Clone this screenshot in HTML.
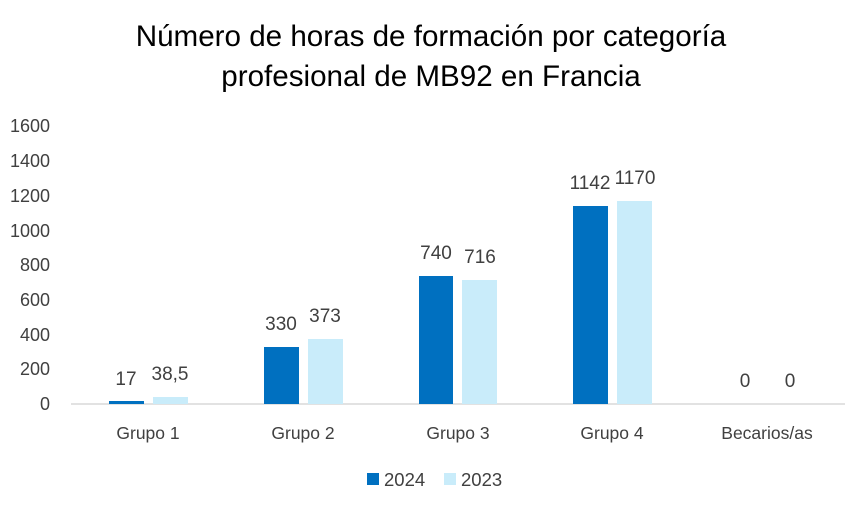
<!DOCTYPE html>
<html><head><meta charset="utf-8"><style>
body{margin:0;background:#fff;}
svg{display:block;font-family:"Liberation Sans",sans-serif;}
</style></head><body>
<svg width="861" height="511" viewBox="0 0 861 511">
<text x="431" y="46" text-anchor="middle" font-size="29.6" fill="#000">Número de horas de formación por categoría</text>
<text x="431" y="86" text-anchor="middle" font-size="29.6" fill="#000">profesional de MB92 en Francia</text>
<g font-size="18" fill="#404040" text-anchor="end">
<text x="50" y="410">0</text>
<text x="50" y="375">200</text>
<text x="50" y="341">400</text>
<text x="50" y="306">600</text>
<text x="50" y="271">800</text>
<text x="50" y="237">1000</text>
<text x="50" y="202">1200</text>
<text x="50" y="167">1400</text>
<text x="50" y="132">1600</text>
</g>
<line x1="71" y1="404" x2="845" y2="404" stroke="#d9d9d9" stroke-width="1.5"/>
<g fill="#0070C0">
<rect x="109" y="401" width="35" height="3"/>
<rect x="264" y="347" width="35" height="57"/>
<rect x="419" y="276" width="34" height="128"/>
<rect x="573" y="206" width="35" height="198"/>
</g>
<g fill="#C9ECFA">
<rect x="153" y="397" width="35" height="7"/>
<rect x="308" y="339" width="35" height="65"/>
<rect x="462" y="280" width="35" height="124"/>
<rect x="617" y="201" width="35" height="203"/>
</g>
<g font-size="19" fill="#404040" text-anchor="middle">
<text x="126" y="385">17</text><text x="170" y="380">38,5</text>
<text x="281" y="330">330</text><text x="325" y="322">373</text>
<text x="436" y="259">740</text><text x="480" y="263">716</text>
<text x="590" y="189">1142</text><text x="635" y="184">1170</text>
<text x="745" y="387">0</text><text x="790" y="387">0</text>
</g>
<g font-size="17.5" fill="#404040" text-anchor="middle">
<text x="148" y="439">Grupo 1</text>
<text x="303" y="439">Grupo 2</text>
<text x="458" y="439">Grupo 3</text>
<text x="612" y="439">Grupo 4</text>
<text x="767" y="439">Becarios/as</text>
</g>
<rect x="367" y="473" width="12" height="12" fill="#0070C0"/>
<text x="384" y="486" font-size="18.5" fill="#404040">2024</text>
<rect x="444" y="473" width="12" height="12" fill="#C9ECFA"/>
<text x="461" y="486" font-size="18.5" fill="#404040">2023</text>
</svg>
</body></html>
